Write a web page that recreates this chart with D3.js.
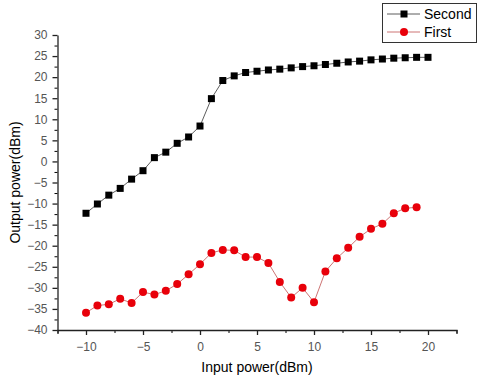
<!DOCTYPE html>
<html>
<head>
<meta charset="utf-8">
<script src="https://cdn.jsdelivr.net/npm/d3@7"></script>
<style>
  body { margin: 0; background: #fff; }
  text { font-family: Arial, "Liberation Sans", sans-serif; }
</style>
</head>
<body>
<div id="chart"></div>
<script>
// data
const inputSecond = d3.range(-10, 21);   // -10 .. 20
const outputSecond = [-12.3, -10.1, -8.0, -6.4, -4.2, -2.2, 0.9, 2.2, 4.3, 5.8,
  8.4, 14.9, 19.2, 20.3, 21.1, 21.4, 21.7, 21.9, 22.2, 22.5,
  22.7, 23.0, 23.3, 23.6, 23.8, 24.1, 24.3, 24.5, 24.6, 24.7, 24.7];

const inputFirst = d3.range(-10, 20);    // -10 .. 19
const outputFirst = [-35.9, -34.2, -33.9, -32.6, -33.6, -31.0, -31.6, -30.7, -29.1, -26.8,
  -24.4, -21.7, -21.0, -21.1, -22.7, -22.7, -24.1, -28.6, -32.3, -30.0,
  -33.4, -26.1, -23.0, -20.5, -17.9, -16.0, -14.8, -12.3, -11.1, -10.9];

const xTicks = [-10, -5, 0, 5, 10, 15, 20];
const yTicks = [-40, -35, -30, -25, -20, -15, -10, -5, 0, 5, 10, 15, 20, 25, 30];
const seriesNames = ["Second", "First"];

const margin = {top: 35, right: 21.5, bottom: 51, left: 57.5},
    width = 478 - margin.left - margin.right,
    height = 381 - margin.top - margin.bottom;

const svg = d3.select("#chart")
  .append("svg")
    .attr("width", 478)
    .attr("height", 381)
  .append("g")
    .attr("transform", "translate(" + margin.left + "," + margin.top + ")");

const xScale = d3.scaleLinear().domain([-12.5, 22.5]).range([0, width]);
const yScale = d3.scaleLinear().domain([-40, 30]).range([height, 0]);

// minor ticks
svg.append("g")
  .attr("transform", "translate(0," + height + ")")
  .call(d3.axisBottom(xScale).tickValues(d3.range(-12.5, 22.6, 2.5)).tickSize(3).tickFormat(""))
  .call(g => g.select(".domain").remove());
svg.append("g")
  .call(d3.axisLeft(yScale).tickValues(d3.range(-37.5, 30, 5)).tickSize(3).tickFormat(""))
  .call(g => g.select(".domain").remove());

// main axes
const xAxis = svg.append("g")
  .attr("transform", "translate(0," + height + ")")
  .call(d3.axisBottom(xScale).tickValues(xTicks).tickSize(5).tickPadding(7).tickSizeOuter(4));
const yAxis = svg.append("g")
  .call(d3.axisLeft(yScale).tickValues(yTicks).tickSize(5).tickPadding(5).tickSizeOuter(0));

[xAxis, yAxis].forEach(function(a) {
  a.selectAll("text")
    .style("font-family", "Arial, 'Liberation Sans', sans-serif")
    .style("font-size", "12px")
    .attr("fill", "#555");
  a.selectAll("line, path").attr("stroke", "#222").attr("stroke-width", 1.3);
});

const line = d3.line()
  .x(d => xScale(d[0]))
  .y(d => yScale(d[1]));

const second = inputSecond.map((x, i) => [x, outputSecond[i]]);
const first = inputFirst.map((x, i) => [x, outputFirst[i]]);

// Second: black squares
svg.append("path")
  .datum(second)
  .attr("d", line)
  .attr("fill", "none")
  .attr("stroke", "#333")
  .attr("stroke-width", 0.8);
svg.selectAll(".sq")
  .data(second)
  .enter().append("rect")
    .attr("x", d => xScale(d[0]) - 3.5)
    .attr("y", d => yScale(d[1]) - 3.5)
    .attr("width", 7)
    .attr("height", 7)
    .attr("fill", "#000");

// First: red circles
svg.append("path")
  .datum(first)
  .attr("d", line)
  .attr("fill", "none")
  .attr("stroke", "#c05050")
  .attr("stroke-width", 0.8);
svg.selectAll(".dot")
  .data(first)
  .enter().append("circle")
    .attr("cx", d => xScale(d[0]))
    .attr("cy", d => yScale(d[1]))
    .attr("r", 4)
    .attr("fill", "#e8000a");

// axis titles
svg.append("text")
  .attr("x", width / 2)
  .attr("y", height + 42)
  .attr("text-anchor", "middle")
  .attr("font-size", "14px")
  .attr("fill", "#000")
  .text("Input power(dBm)");

svg.append("text")
  .attr("transform", "rotate(-90)")
  .attr("x", -height / 2)
  .attr("y", -margin.left + 20)
  .attr("text-anchor", "middle")
  .attr("font-size", "14px")
  .attr("fill", "#000")
  .text("Output power(dBm)");

// legend (outside plot group, page coordinates)
const root = d3.select("#chart svg");
const legend = root.append("g");
legend.append("rect")
  .attr("x", 382.5).attr("y", 3.5)
  .attr("width", 94).attr("height", 39)
  .attr("fill", "#fff")
  .attr("stroke", "#333")
  .attr("stroke-width", 1);

const legendStyles = [
  {stroke: "#333", fill: "#000", shape: "square"},
  {stroke: "#c05050", fill: "#e8000a", shape: "circle"}
];
seriesNames.forEach(function(name, i) {
  const cy = 14 + i * 18;
  const st = legendStyles[i];
  legend.append("line")
    .attr("x1", 387).attr("x2", 420)
    .attr("y1", cy).attr("y2", cy)
    .attr("stroke", st.stroke).attr("stroke-width", 0.8);
  if (st.shape === "square") {
    legend.append("rect")
      .attr("x", 404 - 3.5).attr("y", cy - 3.5)
      .attr("width", 7).attr("height", 7)
      .attr("fill", st.fill);
  } else {
    legend.append("circle")
      .attr("cx", 404).attr("cy", cy).attr("r", 4)
      .attr("fill", st.fill);
  }
  legend.append("text")
    .attr("x", 424).attr("y", cy + 5)
    .attr("font-size", "14px")
    .attr("fill", "#000")
    .text(name);
});
</script>
</body>
</html>
